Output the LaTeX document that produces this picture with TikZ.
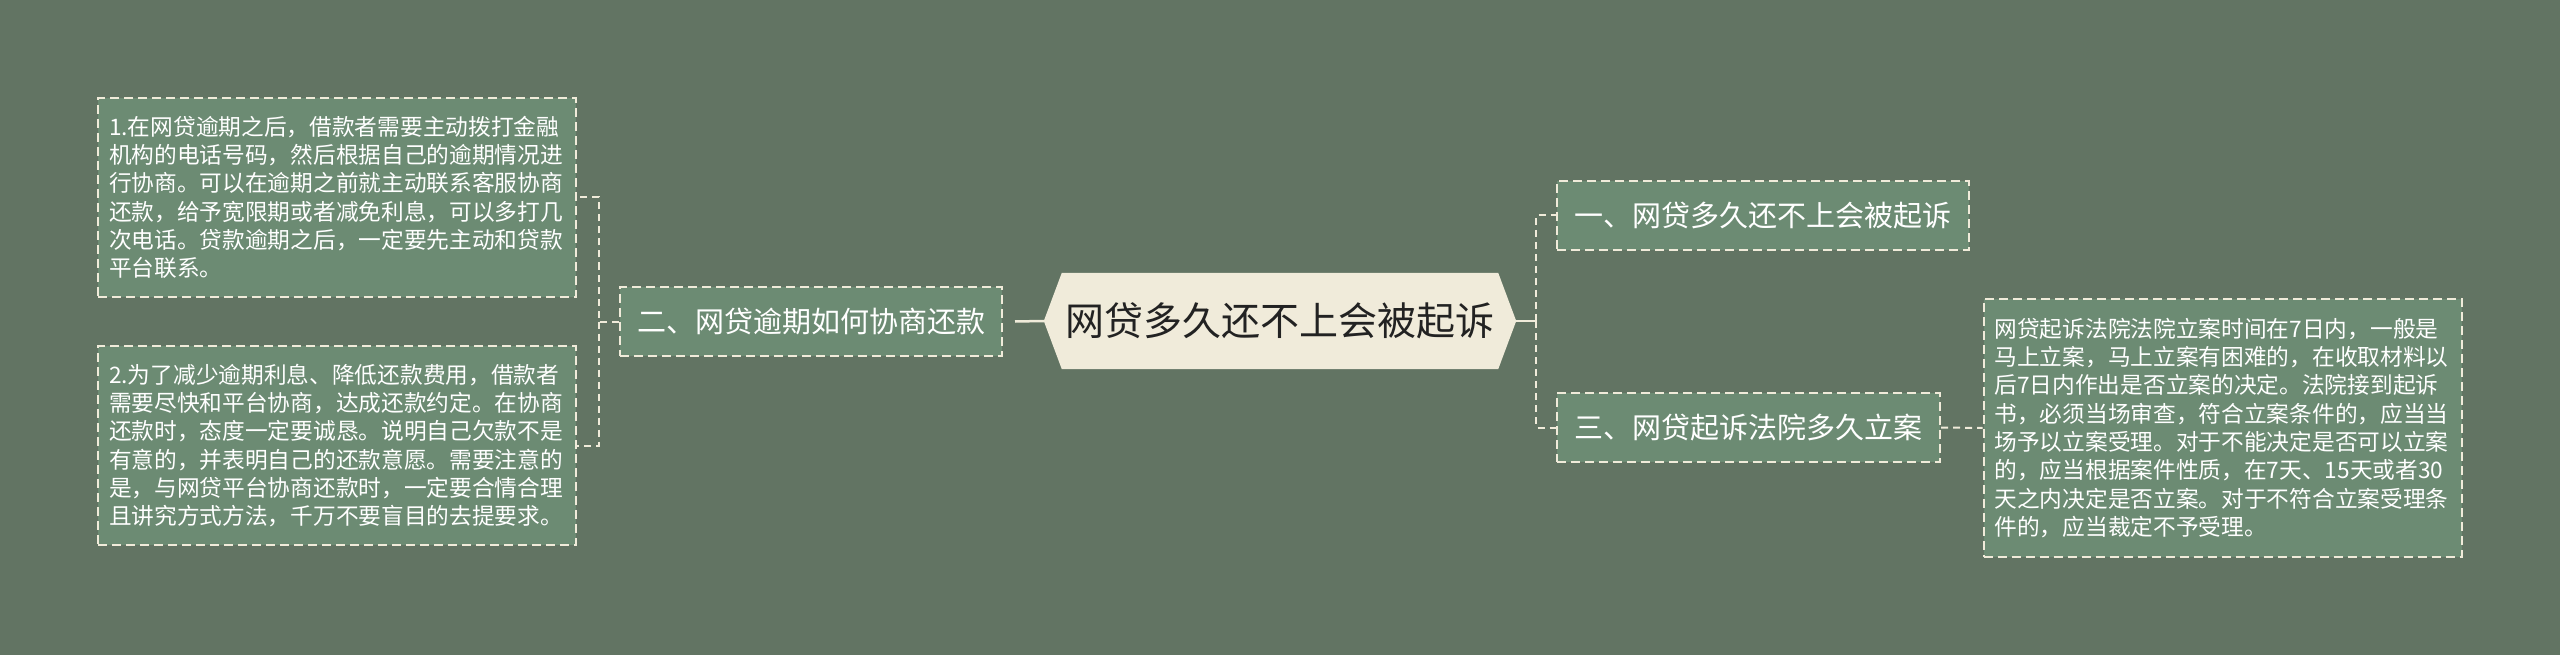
\documentclass[tikz,border=0pt]{standalone}
\usepackage{fontspec}
\newfontfamily\cjk{Noto Sans CJK SC}
\definecolor{bgc}{RGB}{98,116,99}
\definecolor{boxc}{RGB}{108,139,115}
\definecolor{cream}{RGB}{240,235,218}
\definecolor{ink}{RGB}{34,34,34}
\pgfdeclarelayer{bg}
\pgfsetlayers{bg,main}
\tikzset{
  detail/.style={draw=cream, fill=boxc, line width=2pt, dash pattern=on 9pt off 5pt,
    text=white, font=\cjk\fontsize{22.7pt}{28.3pt}\selectfont, text width=456pt,
    align=left, inner xsep=11pt, inner ysep=0pt, minimum width=478pt},
  topic/.style={draw=cream, fill=boxc, line width=2pt, dash pattern=on 9pt off 5pt,
    text=white, font=\cjk\fontsize{29pt}{34pt}\selectfont, inner xsep=0pt,
    inner ysep=0pt, minimum height=69pt},
  root/.style={text=ink, font=\cjk\fontsize{39pt}{46pt}\selectfont,
    minimum width=472pt, minimum height=96pt, inner sep=0pt},
  conn/.style={draw=cream, line width=2pt, dash pattern=on 7pt off 5pt},
  link/.style={draw=cream, line width=2.5pt}
}
\begin{document}
\begin{tikzpicture}[x=1pt,y=-1pt]
\begin{pgfonlayer}{bg}
\fill[bgc] (0,0) rectangle (2560,655);
\end{pgfonlayer}
\useasboundingbox (0,0) rectangle (2560,655);
\node[root] (c) at (1280,321) {网贷多久还不上会被起诉};
\begin{pgfonlayer}{bg}
\fill[cream] (c.west) -- ([xshift=18pt]c.north west) -- ([xshift=-18pt]c.north east)
  -- (c.east) -- ([xshift=-18pt]c.south east) -- ([xshift=18pt]c.south west) -- cycle;
\end{pgfonlayer}
\node[topic, minimum width=382pt] (b2) at (811,321.5) {二、网贷逾期如何协商还款};
\node[topic, minimum width=412pt] (b1) at (1763,215.5) {一、网贷多久还不上会被起诉};
\node[topic, minimum width=383pt] (b3) at (1748.5,427.5) {三、网贷起诉法院多久立案};
\node[detail, minimum height=199pt] (d1) at (337,197.5) {1.在网贷逾期之后，借款者需要主动拨打金融\\机构的电话号码，然后根据自己的逾期情况进\\行协商。可以在逾期之前就主动联系客服协商\\还款，给予宽限期或者减免利息，可以多打几\\次电话。贷款逾期之后，一定要先主动和贷款\\平台联系。};
\node[detail, minimum height=199pt] (d2) at (337,445.5) {2.为了减少逾期利息、降低还款费用，借款者\\需要尽快和平台协商，达成还款约定。在协商\\还款时，态度一定要诚恳。说明自己欠款不是\\有意的，并表明自己的还款意愿。需要注意的\\是，与网贷平台协商还款时，一定要合情合理\\且讲究方式方法，千万不要盲目的去提要求。};
\node[detail, minimum height=258pt] (d3) at (2222.5,428) {网贷起诉法院法院立案时间在7日内，一般是\\马上立案，马上立案有困难的，在收取材料以\\后7日内作出是否立案的决定。法院接到起诉\\书，必须当场审查，符合立案条件的，应当当\\场予以立案受理。对于不能决定是否可以立案\\的，应当根据案件性质，在7天、15天或者30\\天之内决定是否立案。对于不符合立案受理条\\件的，应当裁定不予受理。};
\coordinate (lj) at (599,321.5);
\draw[conn] (b2.west) -- (lj) |- (d1.east);
\draw[conn] (lj) |- (d2.east);
\draw[link] (c.west) -- ([xshift=12pt]b2.east);
\coordinate (rj) at (1536,321);
\draw[link] (c.east) -- (rj);
\draw[conn] (rj) |- (b1.west);
\draw[conn] (rj) |- (b3.west);
\draw[conn] (b3.east) -- (d3.west);
\end{tikzpicture}
\end{document}
